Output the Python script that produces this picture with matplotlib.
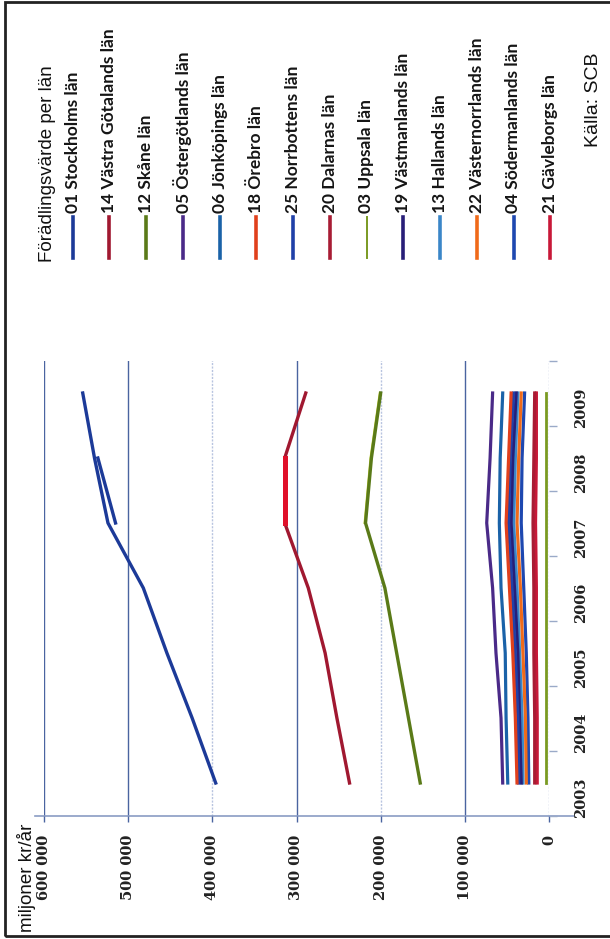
import matplotlib
matplotlib.use("Agg")
import matplotlib.pyplot as plt
from matplotlib.lines import Line2D
from matplotlib.patches import Rectangle

# Data (miljoner kr/år)
years = [2003, 2004, 2005, 2006, 2007, 2008, 2009]

labels = ['01 Stockholms län', '14 Västra Götalands län', '12 Skåne län',
          '05 Östergötlands län', '06 Jönköpings län', '18 Örebro län',
          '25 Norrbottens län', '20 Dalarnas län', '03 Uppsala län',
          '19 Västmanlands län', '13 Hallands län', '22 Västernorrlands län',
          '04 Södermanlands län', '21 Gävleborgs län']
colors = ['#1c3a98', '#a01830', '#5a7a18', '#4a2a88', '#1a62a8', '#e0401c',
          '#2040a8', '#a81c34', '#7a9a22', '#281e78', '#3a86c8', '#f06a1a',
          '#1e48b0', '#c81838']

stockholm = [396, 424, 454, 482, 524, 540, 554]
vastra_gotaland = [237, 252, 266, 286, 314, 314, 289]
skane = [153, 167, 181, 195, 218, 211, 200]
ostergotland = [55, 57, 63, 67, 74, 70, 67]
jonkoping = [49, 51, 52, 57, 59, 58, 55]
orebro = [38, 40, 43, 47, 51, 48, 45]
norrbotten = [36, 37, 40, 44, 48, 46, 42]
dalarna = [17, 17, 18, 18, 19, 18, 17]
uppsala = [4, 4, 4, 4, 4, 4, 4]
vastmanland = [33, 35, 37, 41, 45, 43, 39]
halland = [31, 32, 35, 38, 42, 40, 37]
vasternorrland = [27, 28, 31, 34, 38, 36, 33]
sodermanland = [24, 25, 27, 30, 33, 32, 29]
gavleborg = [14, 14, 15, 15, 16, 15, 15]

series = [stockholm, vastra_gotaland, skane, ostergotland, jonkoping, orebro,
          norrbotten, dalarna, uppsala, vastmanland, halland, vasternorrland,
          sodermanland, gavleborg]

# doubled pieces visible in the scan
extra_years = [2007, 2008]
stockholm_extra = [515, 536]
vg_extra = [314, 314]
skane_extra_years = [2007, 2008, 2009]
skane_extra = [219, 212, 201]

value_ticks = [600000, 500000, 400000, 300000, 200000, 100000, 0]
value_ticklabels = ['600 000', '500 000', '400 000', '300 000', '200 000', '100 000', '0']
dark_grid = [600000, 500000, 300000, 100000]
light_grid = [400000, 200000, 0]

W, H = 610, 939
fig = plt.figure(figsize=(W / 100, H / 100), dpi=100)
fig.patch.set_facecolor('white')

# chart is rotated: years run bottom->top, values right->left
ax = fig.add_axes([44 / W, 1 - 815.5 / H, (549 - 44) / W, (815.5 - 360.5) / H])
ax.set_xlim(600000, 0)
ax.set_ylim(2002.5, 2009.5)
for s in ax.spines.values():
    s.set_visible(False)

for v in dark_grid:
    ax.axvline(v, color='#4a64a0', lw=1.0, zorder=1)
for v in light_grid:
    ax.axvline(v, color='#b8c4e0', lw=1.0, ls=(0, (1.5, 1)), zorder=1)
ax.axhline(2002.5, xmin=-0.018, xmax=1.05, color='#8a9cc4', lw=1.2,
           clip_on=False, zorder=1)

lw = [2.4, 2.4, 2.4] + [2.3] * 11
lw[8] = 2.0
for i in range(len(series) - 1, -1, -1):
    ax.plot([v * 1000 for v in series[i]], years, color=colors[i], lw=lw[i],
            solid_joinstyle='round', zorder=3 + (i < 3))
ax.plot([v * 1000 for v in skane_extra], skane_extra_years, color='#b8c828',
        lw=1.6, zorder=3.5)
ax.plot([v * 1000 for v in stockholm_extra], extra_years, color=colors[0],
        lw=2.4, zorder=4)
ax.plot([v * 1000 for v in vg_extra], extra_years, color='#e0102a',
        lw=3.6, zorder=4)

ax.set_xticks(value_ticks)
ax.set_xticklabels(value_ticklabels, rotation=90, fontsize=10.5,
                   family='DejaVu Serif', weight='bold', color='#222222')
ax.tick_params(axis='x', length=4, width=1, color='#4a64a0', pad=10)

ax.yaxis.set_ticks_position('right')
ax.set_yticks(years)
ax.set_yticklabels([str(y) for y in years], rotation=90, fontsize=10.5,
                   family='DejaVu Serif', weight='bold', color='#222222')
ax.set_yticks([y + 0.5 for y in [2002] + years], minor=True)
ax.tick_params(axis='y', which='both', left=False, labelleft=False)
ax.tick_params(axis='y', which='major', length=0, pad=18)
ax.tick_params(axis='y', which='minor', length=6, width=1, color='#9aaac8')

fig.text(27 / W, 1 - 932 / H, 'miljoner kr/år', rotation=90, ha='center',
         va='bottom', fontsize=13.5, family='Liberation Sans', color='#111111')

# legend, drawn by hand (rotated)
fig.text(48 / W, 1 - 262 / H, 'Förädlingsvärde per län', rotation=90,
         ha='center', va='bottom', fontsize=13.5, family='Liberation Sans',
         color='#111111')
for i, lab in enumerate(labels):
    x = (72.5 + i * 36.75) / W
    fig.add_artist(Line2D([x, x], [1 - 258 / H, 1 - 217 / H],
                          transform=fig.transFigure, color=colors[i],
                          lw=1.4 if i == 8 else 2.6))
    fig.text(x, 1 - 213 / H, lab, rotation=90, ha='center', va='bottom',
             fontsize=12.5, family='Lato', weight='bold', color='#151515')

fig.text(593 / W, 1 - 147 / H, 'Källa: SCB', rotation=90, ha='center',
         va='bottom', fontsize=14, family='Liberation Sans', color='#111111')

fig.add_artist(Rectangle((5 / W, 1 - 936 / H), 620 / W, 934 / H,
                         transform=fig.transFigure, fill=False,
                         ec='#222222', lw=2))

fig.savefig('out.png', dpi=100, facecolor='white')
